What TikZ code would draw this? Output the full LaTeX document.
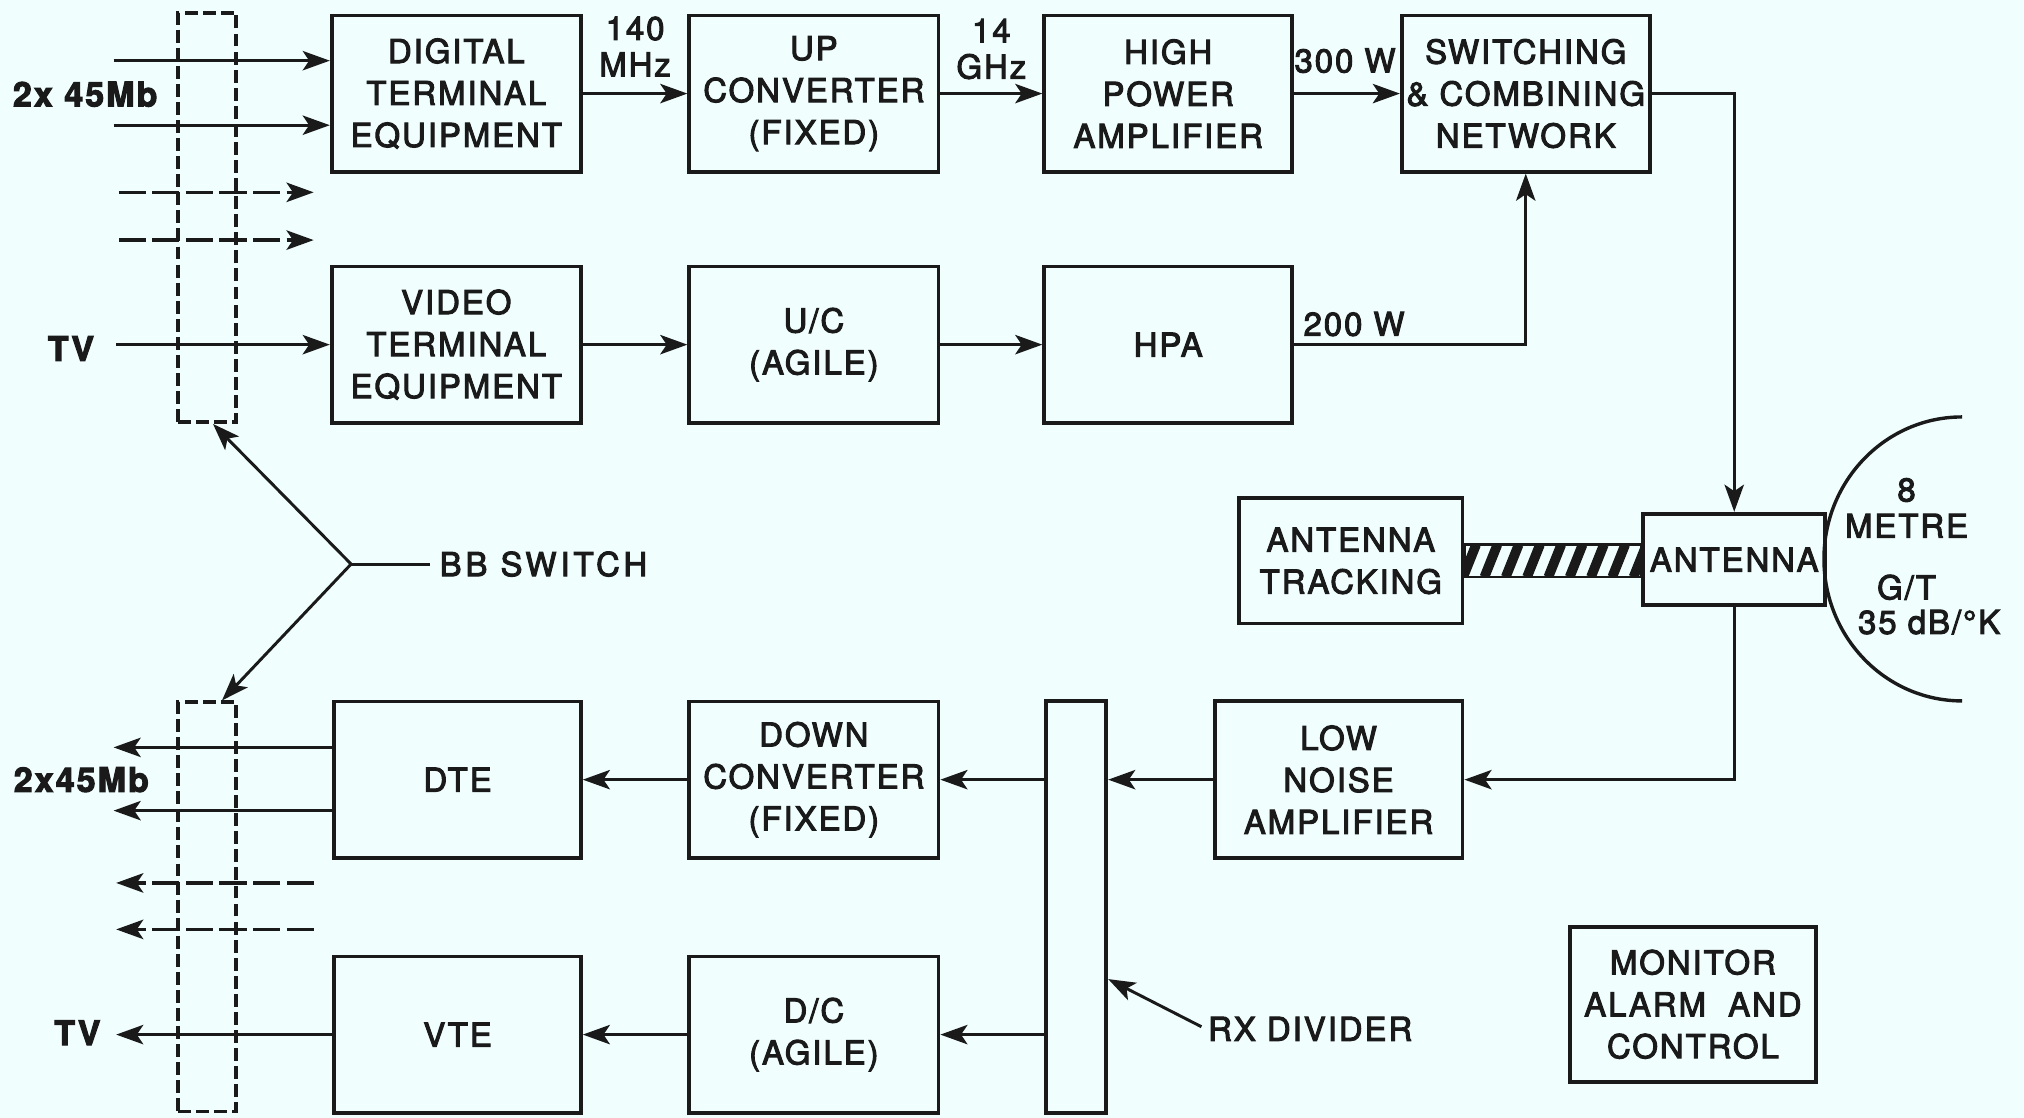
\documentclass[tikz,border=0pt]{standalone}
\usepackage{fontspec}
\setmainfont{TeX Gyre Heros}[LetterSpace=6, FakeBold=3]
\usetikzlibrary{arrows.meta, positioning, calc}
\definecolor{paper}{HTML}{F0FEFE}
\definecolor{ink}{HTML}{1A1A1A}
\newcommand{\blkfont}{\fontsize{14.5}{18.5}\selectfont}
\newcommand{\lblfont}{\fontsize{14.5}{16}\selectfont}

\begin{document}
\begin{tikzpicture}[
  >={Stealth[length=4.2mm, width=3mm, inset=1mm]},
  blk/.style={draw=ink, line width=1.7pt, minimum width=3.86cm, minimum height=2.42cm,
    align=center, inner sep=0pt, text=ink, font=\blkfont},
  bbsw/.style={draw=ink, line width=1.6pt, dash pattern=on 0.2cm off 0.08cm,
    minimum width=0.9cm, minimum height=6.34cm},
  sig/.style={->, draw=ink, line width=1.3pt},
  sigd/.style={sig, line width=1.5pt, dash pattern=on 0.42cm off 0.1cm},
  lbl/.style={font=\fontsize{15}{18}\selectfont\bfseries, text=ink, inner sep=1pt},
  txt/.style={font=\lblfont, text=ink, align=center, inner sep=1pt},
]

% Background
\fill[paper] (0,0) rectangle (31.36,-17.32);
\useasboundingbox (0,0) rectangle (31.36,-17.32);

% === Transmit chain ===
\node[blk] (dtx) at (7.07,-1.45) {DIGITAL\\TERMINAL\\EQUIPMENT};
\node[blk] (upc) at (12.61,-1.45) {UP\\CONVERTER\\(FIXED)};
\node[blk, minimum width=3.84cm] (hpa) at (18.10,-1.45) {HIGH\\POWER\\AMPLIFIER};
\node[blk, minimum width=3.84cm] (scn) at (23.64,-1.45) {SWITCHING\\\& COMBINING\\NETWORK};

\node[blk] (vtx) at (7.07,-5.34) {VIDEO\\TERMINAL\\EQUIPMENT};
\node[blk] (uca) at (12.61,-5.34) {U/C\\(AGILE)};
\node[blk, minimum width=3.84cm] (hpb) at (18.10,-5.34) {HPA};

% === Antenna ===
\node[blk, minimum width=3.46cm, minimum height=1.94cm] (trk) at (20.93,-8.69) {ANTENNA\\TRACKING};
\node[blk, minimum width=2.82cm, minimum height=1.42cm] (ant) at (26.87,-8.67) {ANTENNA};

% === Receive chain ===
\node[blk, minimum width=3.84cm, minimum height=2.44cm] (lna) at (20.74,-12.08) {LOW\\NOISE\\AMPLIFIER};
\node[blk, minimum width=0.94cm, minimum height=6.38cm] (rxd) at (16.67,-14.05) {};
\node[blk] (dcf) at (12.61,-12.08) {DOWN\\CONVERTER\\(FIXED)};
\node[blk, minimum width=3.82cm] (dte) at (7.09,-12.08) {DTE};
\node[blk] (dca) at (12.61,-16.03) {D/C\\(AGILE)};
\node[blk, minimum width=3.82cm] (vte) at (7.09,-16.03) {VTE};

\node[blk, minimum width=3.82cm, minimum height=2.40cm] (mac) at (26.23,-15.56) {MONITOR\\ALARM\ \ AND\\CONTROL};

% Baseband switches
\node[bbsw] (bbtop) at (3.21,-3.37) {};
\node[bbsw] (bbbot) at (3.21,-14.05) {};

% Labels
\node[lbl] (mbu) at (1.32,-1.46) {2x 45Mb};
\node[lbl] (tvu) at (1.10,-5.40) {TV};
\node[lbl] (mbl) at (1.26,-12.08) {2x45Mb};
\node[lbl] (tvl) at (1.20,-16.00) {TV};
\node[txt] (f140) at (9.84,-0.72) {140\\MHz};
\node[txt] (f14) at (15.36,-0.76) {14\\GHz};
\node[txt] (p300) at (20.84,-0.94) {300 W};
\node[txt] (p200) at (20.98,-5.02) {200 W};
\node[txt] (rxl) at (20.30,-15.94) {RX DIVIDER};
\node[txt, font=\lblfont\addfontfeature{LetterSpace=12}] (bbs) at (8.42,-8.74) {BB SWITCH};
\node[txt] (dish1) at (29.54,-7.87) {8\\METRE};
\node[txt] (gt) at (29.54,-9.10) {G/T};
\node[txt] (gtv) at (29.89,-9.64) {35 dB/°K};

% Dish
\draw[ink, line width=1.5pt] (30.40,-6.46) arc[start angle=90, end angle=270, x radius=2.14cm, y radius=2.20cm];

% Tracking link (hatched)
\coordinate (hb0) at ($(trk.east)+(0,-0.25)$);
\coordinate (hb1) at ($(ant.west |- trk.east)+(0,0.25)$);
\begin{scope}
  \clip (hb0) rectangle (hb1);
  \foreach \k in {0,...,9}
    \draw[ink, line width=0.15cm] ($(hb0)+(\k*0.33-0.02,0)$) -- ++(0.2,0.5);
\end{scope}
\draw[ink, line width=1.2pt] (hb0) rectangle (hb1);

% === Transmit connectors ===
\coordinate (ia) at (1.76,-0.94);
\coordinate (ib) at (1.76,-1.94);
\draw[sig] (ia) -- (ia -| dtx.west);
\draw[sig] (ib) -- (ib -| dtx.west);
\coordinate (sa) at (1.84,-2.98);
\coordinate (sb) at (1.84,-3.72);
\coordinate (sa2) at (4.86,-2.98);
\coordinate (sb2) at (4.86,-3.72);
\draw[sigd] (sa) -- (sa2);
\draw[sigd] (sb) -- (sb2);
\coordinate (iv) at (1.80,-5.34);
\draw[sig] (iv) -- (vtx.west);

\draw[sig] (dtx.east) -- (upc.west);
\draw[sig] (upc.east) -- (hpa.west);
\draw[sig] (hpa.east) -- (scn.west);
\draw[sig] (scn.east) -| (ant.north);
\draw[sig] (vtx.east) -- (uca.west);
\draw[sig] (uca.east) -- (hpb.west);
\draw[sig] (hpb.east) -| (scn.south);

% === Receive connectors ===
\draw[sig] (ant.south) |- (lna.east);
\draw[sig] (lna.west) -- (lna.west -| rxd.east);
\draw[sig] (dcf.east -| rxd.west) -- (dcf.east);
\draw[sig] (dcf.west) -- (dte.east);
\draw[sig] (dca.east -| rxd.west) -- (dca.east);
\draw[sig] (dca.west) -- (vte.east);

\coordinate (oa) at (1.76,-11.58);
\coordinate (ob) at (1.76,-12.56);
\draw[sig] (oa -| dte.west) -- (oa);
\draw[sig] (ob -| dte.west) -- (ob);
\coordinate (ta) at (4.86,-13.68);
\coordinate (tb) at (4.86,-14.40);
\coordinate (ta2) at (1.80,-13.68);
\coordinate (tb2) at (1.80,-14.40);
\draw[sigd] (ta) -- (ta2);
\draw[sigd] (tb) -- (tb2);
\coordinate (ov) at (1.80,-16.03);
\draw[sig] (vte.west) -- (ov);

% Pointers
\draw[sig, shorten <=2pt] (rxl.west) -- ($(rxd.south east)+(0,2.1)$);
\coordinate (bbj) at (5.44,-8.74);
\draw[ink, line width=1.3pt, shorten <=3pt] (bbs.west) -- (bbj);
\draw[sig] (bbj) -- ($(bbtop.south)+(0.09,0)$);
\draw[sig] (bbj) -- ($(bbbot.north)+(0.23,0)$);

\end{tikzpicture}
\end{document}
